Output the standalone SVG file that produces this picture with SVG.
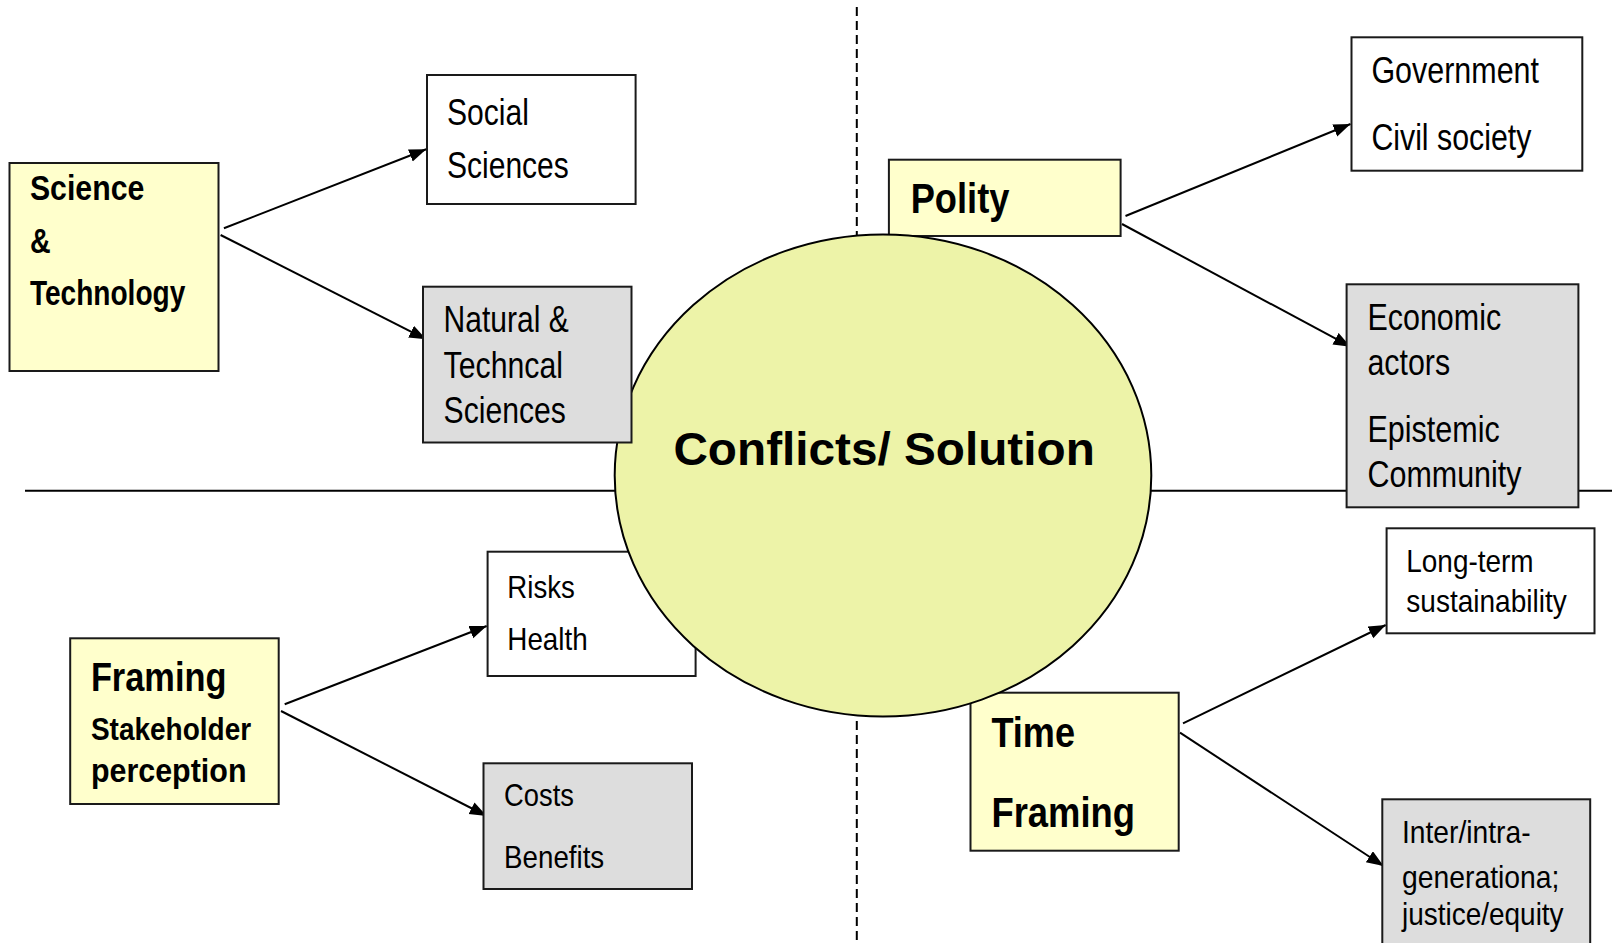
<svg xmlns="http://www.w3.org/2000/svg" width="1612" height="943" viewBox="0 0 1612 943">
<style>
.box{stroke:#1a1a1a;stroke-width:2}
.y{fill:#FFFFCC}
.w{fill:#FFFFFF}
.g{fill:#DDDDDD}
text{font-family:"Liberation Sans Narrow","Liberation Sans",Arial,sans-serif;fill:#000}
.b{font-weight:bold}
.conn{stroke:#000;stroke-width:2;fill:none;marker-end:url(#ah)}
</style>
<defs>
<marker id="ah" markerUnits="userSpaceOnUse" markerWidth="19" markerHeight="15" refX="17" refY="6.5" orient="auto">
<path d="M0,0 L17,6.5 L0,13 z" fill="#000"/>
</marker>
</defs>
<rect width="1612" height="943" fill="#fff"/>
<g id="axes">
<line x1="25" y1="490.7" x2="1612" y2="490.7" stroke="#000" stroke-width="2"/>
<line x1="856.8" y1="7" x2="856.8" y2="943" stroke="#000" stroke-width="2" stroke-dasharray="9 5"/>
</g>
<g id="connectors">
<path class="conn" d="M223.9,228.3 L426.2,149.3"/>
<path class="conn" d="M220.6,235 L426.2,339.3"/>
<path class="conn" d="M1125.5,216 L1350.5,124"/>
<path class="conn" d="M1122,224 L1350.5,346.7"/>
<path class="conn" d="M284.7,704.3 L486.7,626"/>
<path class="conn" d="M281,711 L486.7,816"/>
<path class="conn" d="M1183,723.3 L1385.7,625"/>
<path class="conn" d="M1180,732.7 L1383.6,866"/>
</g>
<g id="risks">
<rect class="box w" x="487.6" y="551.7" width="208" height="124.3"/>
<text x="507.3" y="598.3" font-size="32" textLength="67.5" lengthAdjust="spacingAndGlyphs">Risks</text>
<text x="507.3" y="650" font-size="32" textLength="80.4" lengthAdjust="spacingAndGlyphs">Health</text>
</g>
<g id="polity">
<rect class="box y" x="888.9" y="159.7" width="231.7" height="76.3"/>
<text class="b" x="910.7" y="213.3" font-size="42" textLength="98.7" lengthAdjust="spacingAndGlyphs">Polity</text>
</g>
<g id="time">
<rect class="box y" x="970.5" y="692.7" width="208.2" height="158"/>
<text class="b" x="991.4" y="747.3" font-size="42" textLength="83.6" lengthAdjust="spacingAndGlyphs">Time</text>
<text class="b" x="991.4" y="826.7" font-size="42" textLength="143.6" lengthAdjust="spacingAndGlyphs">Framing</text>
</g>
<g id="center">
<ellipse cx="883" cy="475.5" rx="268.3" ry="241" fill="#EDF3A8" stroke="#000" stroke-width="2"/>
<text class="b" x="673.4" y="465" font-size="46" textLength="421.4" lengthAdjust="spacingAndGlyphs" style="font-family:'Liberation Sans',Arial,sans-serif">Conflicts/ Solution</text>
</g>
<g id="science">
<rect class="box y" x="9.5" y="163" width="209" height="208"/>
<text class="b" x="29.9" y="200" font-size="35" textLength="114.4" lengthAdjust="spacingAndGlyphs">Science</text>
<text class="b" x="29.9" y="253.3" font-size="35" textLength="20.7" lengthAdjust="spacingAndGlyphs">&amp;</text>
<text class="b" x="29.9" y="305" font-size="35" textLength="155.4" lengthAdjust="spacingAndGlyphs">Technology</text>
</g>
<g id="social">
<rect class="box w" x="427" y="75" width="208.6" height="129"/>
<text x="447" y="125" font-size="36" textLength="82" lengthAdjust="spacingAndGlyphs">Social</text>
<text x="447" y="178.3" font-size="36" textLength="121.8" lengthAdjust="spacingAndGlyphs">Sciences</text>
</g>
<g id="natural">
<rect class="box g" x="423" y="286.7" width="208.5" height="155.8"/>
<text x="443.6" y="331.7" font-size="36" textLength="125.2" lengthAdjust="spacingAndGlyphs">Natural &amp;</text>
<text x="443.6" y="378.3" font-size="36" textLength="119.4" lengthAdjust="spacingAndGlyphs">Techncal</text>
<text x="443.6" y="422.7" font-size="36" textLength="122.3" lengthAdjust="spacingAndGlyphs">Sciences</text>
</g>
<g id="government">
<rect class="box w" x="1351.5" y="37.3" width="230.8" height="133.4"/>
<text x="1371.4" y="83.3" font-size="36" textLength="167.6" lengthAdjust="spacingAndGlyphs">Government</text>
<text x="1371.4" y="150" font-size="36" textLength="159.9" lengthAdjust="spacingAndGlyphs">Civil society</text>
</g>
<g id="economic">
<rect class="box g" x="1346.6" y="284.3" width="231.8" height="223"/>
<text x="1367.5" y="330" font-size="36" textLength="133.6" lengthAdjust="spacingAndGlyphs">Economic</text>
<text x="1367.5" y="375" font-size="36" textLength="82.6" lengthAdjust="spacingAndGlyphs">actors</text>
<text x="1367.5" y="442.3" font-size="36" textLength="132.2" lengthAdjust="spacingAndGlyphs">Epistemic</text>
<text x="1367.5" y="486.7" font-size="36" textLength="154" lengthAdjust="spacingAndGlyphs">Community</text>
</g>
<g id="framing">
<rect class="box y" x="70.2" y="638.3" width="208.5" height="165.7"/>
<text class="b" x="90.9" y="690.7" font-size="41" textLength="135.5" lengthAdjust="spacingAndGlyphs">Framing</text>
<text class="b" x="90.9" y="740" font-size="32" textLength="160.2" lengthAdjust="spacingAndGlyphs">Stakeholder</text>
<text class="b" x="90.9" y="781.7" font-size="33" textLength="155.6" lengthAdjust="spacingAndGlyphs">perception</text>
</g>
<g id="costs">
<rect class="box g" x="483.5" y="763.3" width="208.5" height="125.7"/>
<text x="504.1" y="806" font-size="32" textLength="69.8" lengthAdjust="spacingAndGlyphs">Costs</text>
<text x="504.1" y="868.3" font-size="32" textLength="100.1" lengthAdjust="spacingAndGlyphs">Benefits</text>
</g>
<g id="longterm">
<rect class="box w" x="1386.6" y="528.3" width="207.9" height="105"/>
<text x="1406.3" y="571.7" font-size="32" textLength="127.3" lengthAdjust="spacingAndGlyphs">Long-term</text>
<text x="1406.3" y="611.7" font-size="32" textLength="160.4" lengthAdjust="spacingAndGlyphs">sustainability</text>
</g>
<g id="inter">
<rect class="box g" x="1382.3" y="799.3" width="207.9" height="160"/>
<text x="1402" y="843.3" font-size="32" textLength="128.6" lengthAdjust="spacingAndGlyphs">Inter/intra-</text>
<text x="1402" y="888.3" font-size="32" textLength="157.4" lengthAdjust="spacingAndGlyphs">generationa;</text>
<text x="1402" y="925" font-size="32" textLength="161.6" lengthAdjust="spacingAndGlyphs">justice/equity</text>
</g>
</svg>
